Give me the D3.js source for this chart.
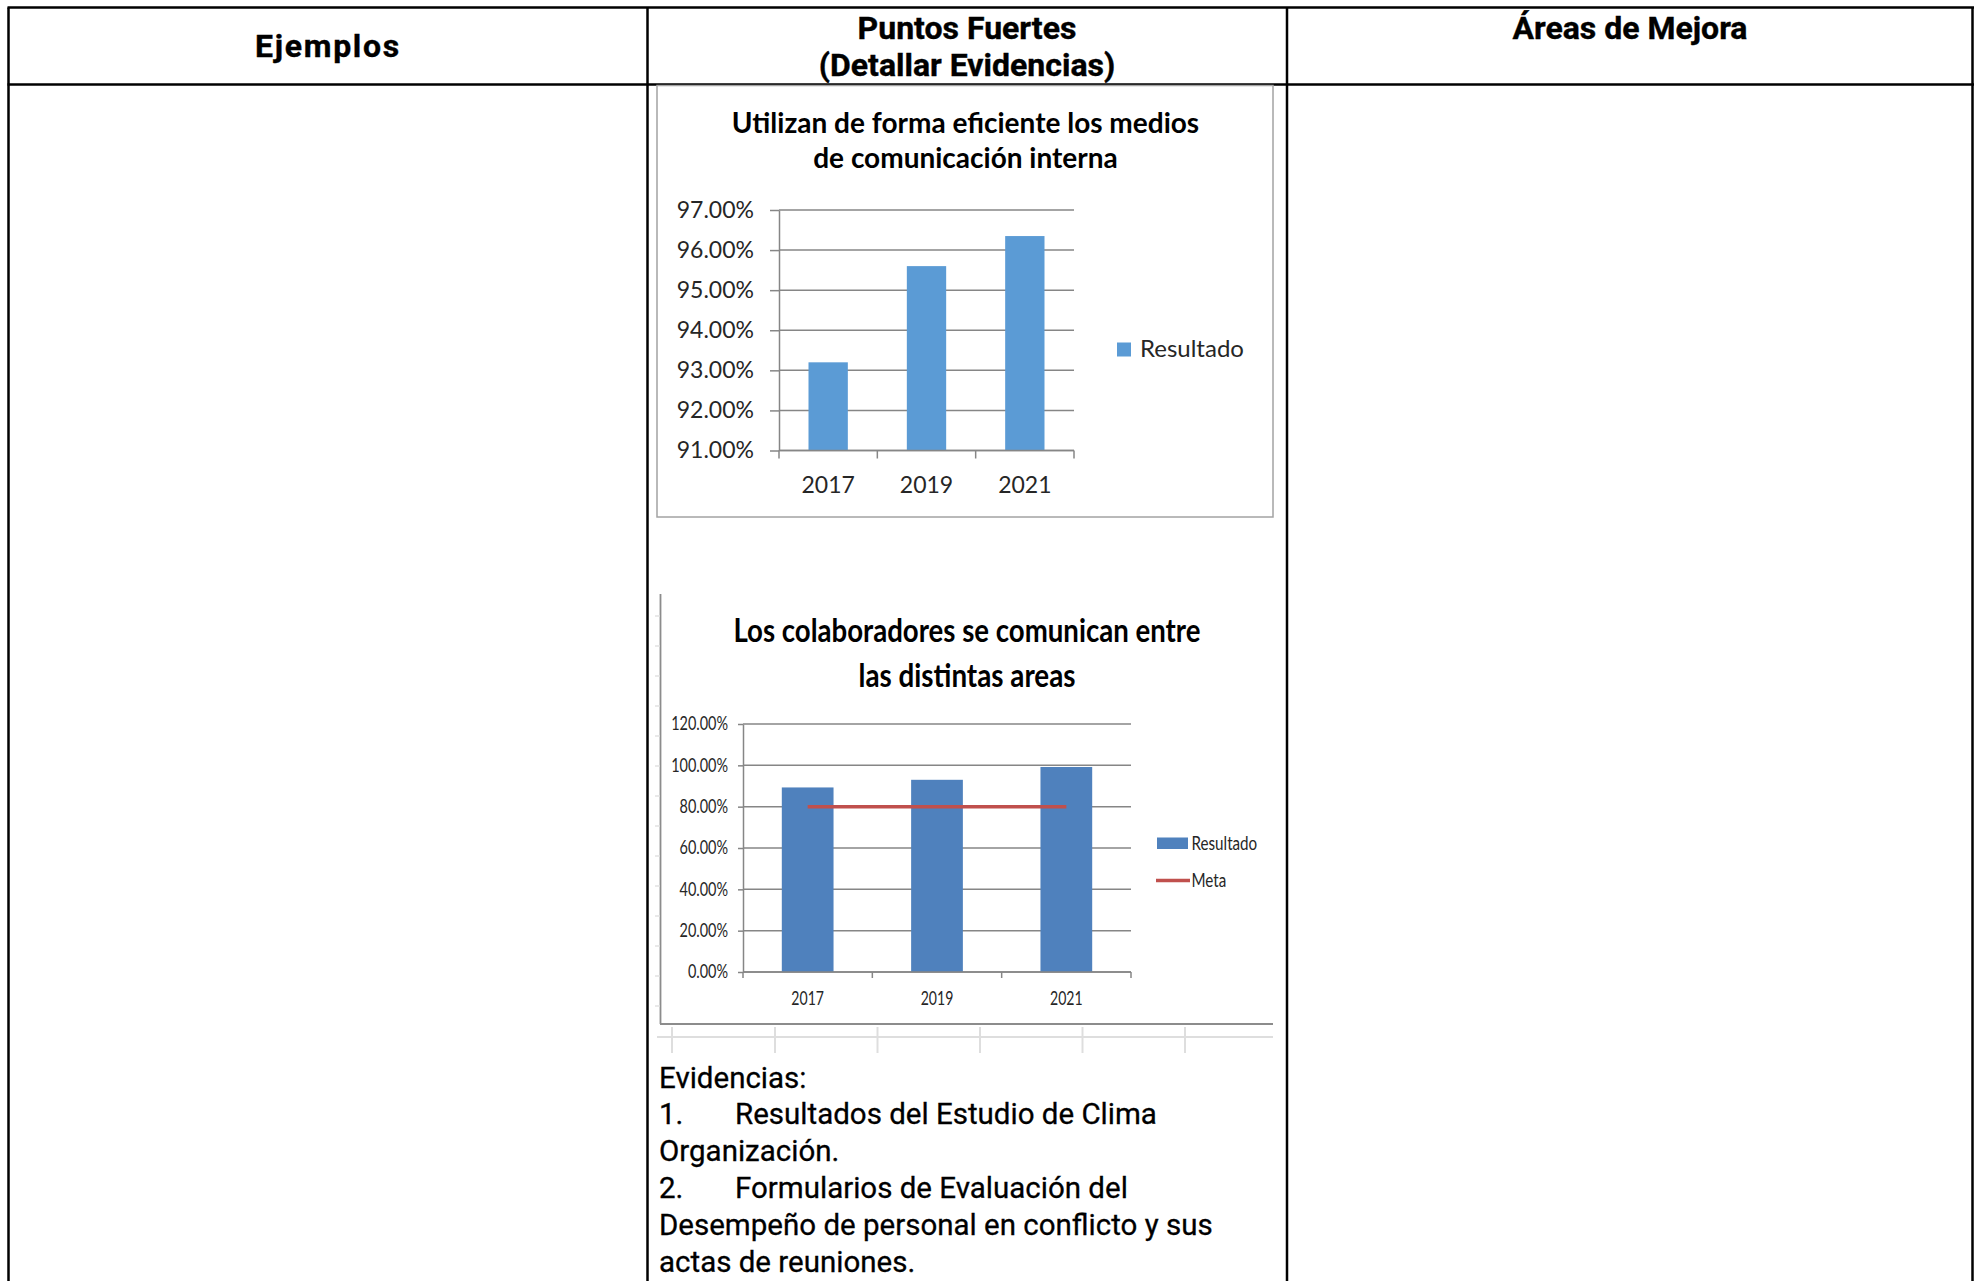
<!DOCTYPE html>
<html><head><meta charset="utf-8">
<script src="https://cdn.jsdelivr.net/npm/d3@7"></script>
<style>
html,body{margin:0;padding:0;background:#fff;}
svg{display:block;}
</style></head>
<body>
<svg id="c" width="1977" height="1281"></svg>
<script>
// ---------- DATA ----------
const headers = ["Ejemplos", "Puntos Fuertes", "(Detallar Evidencias)", "Áreas de Mejora"];

const chart1Title = ["Utilizan de forma eficiente los medios", "de comunicación interna"];
const years1 = ["2017", "2019", "2021"];
const resultado1 = [0.932, 0.956, 0.9635];
const yTicks1 = [0.91, 0.92, 0.93, 0.94, 0.95, 0.96, 0.97];
const legend1 = ["Resultado"];

const chart2Title = ["Los colaboradores se comunican entre", "las distintas areas"];
const years2 = ["2017", "2019", "2021"];
const resultado2 = [0.893, 0.930, 0.992];
const meta2 = [0.80, 0.80, 0.80];
const yTicks2 = [0, 0.2, 0.4, 0.6, 0.8, 1.0, 1.2];
const legend2 = ["Resultado", "Meta"];

const evidNumbers = ["", "1.", "", "2.", "", ""];
const evidLines = ["Evidencias:", "Resultados del Estudio de Clima", "Organización.",
  "Formularios de Evaluación del", "Desempeño de personal en conflicto y sus", "actas de reuniones."];

// ---------- DRAW ----------
const svg = d3.select("#c");
svg.append("rect").attr("width", 1977).attr("height", 1281).attr("fill", "#fff");

const pct = d3.format(".2%");
const gridC = "#868686";
const DIN = "Roboto, 'DejaVu Sans', sans-serif";
const CAL = "Lato, 'Open Sans', sans-serif";

function squish(sel, f) {
  sel.each(function () {
    const L = this.getComputedTextLength();
    this.setAttribute("textLength", L * f);
    this.setAttribute("lengthAdjust", "spacingAndGlyphs");
  });
}

// ---- table ----
const tbl = svg.append("g").attr("stroke", "#000").attr("stroke-width", 2.5);
tbl.append("line").attr("x1", 7.5).attr("x2", 1974).attr("y1", 7.5).attr("y2", 7.5);
tbl.append("line").attr("x1", 7.5).attr("x2", 1974).attr("y1", 84.5).attr("y2", 84.5);
[8.5, 647.5, 1287, 1972.5].forEach(x =>
  tbl.append("line").attr("x1", x).attr("x2", x).attr("y1", 7.5).attr("y2", 1281));

const hdr = svg.append("g").attr("font-family", DIN).attr("font-weight", "bold")
  .attr("font-size", 32).attr("fill", "#000").attr("text-anchor", "middle")
  .attr("stroke", "#000").attr("stroke-width", 0.4);
hdr.append("text").attr("x", 328).attr("y", 57).attr("letter-spacing", 1.7).text(headers[0]);
hdr.append("text").attr("x", 967).attr("y", 39).text(headers[1]);
hdr.append("text").attr("x", 967).attr("y", 76).text(headers[2]);
hdr.append("text").attr("x", 1630).attr("y", 39).text(headers[3]);

// ---- chart 1 ----
const c1 = svg.append("g");
c1.append("rect").attr("x", 657).attr("y", 85.5).attr("width", 616).attr("height", 431.5)
  .attr("fill", "#fff").attr("stroke", "#a3a3a3").attr("stroke-width", 1.5);

c1.append("g").attr("font-family", CAL).attr("font-weight", "bold").attr("font-size", 28)
  .attr("fill", "#000").attr("text-anchor", "middle")
  .selectAll("text").data(chart1Title).join("text")
  .attr("x", 965.5).attr("y", (d, i) => 132.5 + i * 35.5).text(d => d);

const x1 = d3.scaleBand().domain(years1).range([779, 1074]).paddingInner(0.6).paddingOuter(0.3);
const y1 = d3.scaleLinear().domain([0.91, 0.97]).range([450.5, 210]);

c1.append("g").selectAll("line").data(yTicks1).join("line")
  .attr("x1", 779).attr("x2", 1074).attr("y1", d => y1(d)).attr("y2", d => y1(d))
  .attr("stroke", gridC).attr("stroke-width", 1.5);

c1.append("g").selectAll("rect").data(resultado1).join("rect")
  .attr("x", (d, i) => x1(years1[i])).attr("width", x1.bandwidth())
  .attr("y", d => y1(d)).attr("height", d => y1(0.91) - y1(d))
  .attr("fill", "#5B9BD5");

const ax1 = c1.append("g").attr("transform", "translate(779,0)")
  .call(d3.axisLeft(y1).tickValues(yTicks1).tickFormat(pct).tickSize(9).tickSizeOuter(0).tickPadding(16));
ax1.selectAll("path,line").attr("stroke", gridC).attr("stroke-width", 1.5);
ax1.selectAll("text").attr("font-family", CAL).attr("font-size", 23).attr("fill", "#262626");

// x axis chart 1
const bx1 = c1.append("g");
bx1.append("line").attr("x1", 779).attr("x2", 1074).attr("y1", y1(0.91)).attr("y2", y1(0.91))
  .attr("stroke", gridC).attr("stroke-width", 1.5);
bx1.selectAll("line.tk").data(d3.range(years1.length + 1)).join("line").attr("class", "tk")
  .attr("x1", i => 779 + i * x1.step()).attr("x2", i => 779 + i * x1.step())
  .attr("y1", y1(0.91)).attr("y2", y1(0.91) + 8).attr("stroke", gridC).attr("stroke-width", 1.5);
bx1.selectAll("text").data(years1).join("text")
  .attr("x", d => x1(d) + x1.bandwidth() / 2).attr("y", 492.5)
  .attr("text-anchor", "middle").attr("font-family", CAL).attr("font-size", 23).attr("fill", "#262626")
  .text(d => d);

// legend 1
const lg1 = c1.append("g");
lg1.append("rect").attr("x", 1117).attr("y", 342.5).attr("width", 14).attr("height", 14).attr("fill", "#5B9BD5");
lg1.append("text").attr("x", 1140).attr("y", 356.5).attr("font-family", CAL).attr("font-size", 24)
  .attr("fill", "#262626").text(legend1[0]);

// ---- chart 2 ----
const c2 = svg.append("g");
c2.append("line").attr("x1", 660.5).attr("x2", 660.5).attr("y1", 594).attr("y2", 1024)
  .attr("stroke", "#8c8c8c").attr("stroke-width", 1.8);
c2.append("line").attr("x1", 660).attr("x2", 1273).attr("y1", 1024).attr("y2", 1024)
  .attr("stroke", "#8c8c8c").attr("stroke-width", 1.8);
// faint spreadsheet marks
c2.append("g").selectAll("line").data(d3.range(616, 1010, 30)).join("line")
  .attr("x1", 655).attr("x2", 660).attr("y1", d => d).attr("y2", d => d)
  .attr("stroke", "#e2e2e2").attr("stroke-width", 1.5);
const sheet = svg.append("g").attr("stroke", "#dedede").attr("stroke-width", 2);
sheet.append("line").attr("x1", 657).attr("x2", 1273).attr("y1", 1037).attr("y2", 1037);
[672, 775, 877.5, 980, 1082.5, 1185].forEach(x =>
  sheet.append("line").attr("x1", x).attr("x2", x).attr("y1", 1027).attr("y2", 1053));

const t2 = c2.append("g").attr("font-family", CAL).attr("font-weight", "bold").attr("font-size", 33)
  .attr("fill", "#000").attr("text-anchor", "middle")
  .selectAll("text").data(chart2Title).join("text")
  .attr("x", 967).attr("y", (d, i) => 642 + i * 44.5).text(d => d);
t2.attr("textLength", (d, i) => [467, 217][i]).attr("lengthAdjust", "spacingAndGlyphs");

const x2 = d3.scaleBand().domain(years2).range([743, 1131]).paddingInner(0.6).paddingOuter(0.3);
const y2 = d3.scaleLinear().domain([0, 1.2]).range([972, 724]);

c2.append("g").selectAll("line").data(yTicks2).join("line")
  .attr("x1", 743).attr("x2", 1131).attr("y1", d => y2(d)).attr("y2", d => y2(d))
  .attr("stroke", gridC).attr("stroke-width", 1.5);

c2.append("g").selectAll("rect").data(resultado2).join("rect")
  .attr("x", (d, i) => x2(years2[i])).attr("width", x2.bandwidth())
  .attr("y", d => y2(d)).attr("height", d => y2(0) - y2(d))
  .attr("fill", "#4F81BD");

const metaLine = d3.line().x((d, i) => x2(years2[i]) + x2.bandwidth() / 2).y(d => y2(d));
c2.append("path").attr("d", metaLine(meta2)).attr("fill", "none")
  .attr("stroke", "#C0504D").attr("stroke-width", 3.5);

const ax2 = c2.append("g").attr("transform", "translate(743,0)")
  .call(d3.axisLeft(y2).tickValues(yTicks2).tickFormat(pct).tickSize(5).tickSizeOuter(0).tickPadding(10));
ax2.selectAll("path,line").attr("stroke", gridC).attr("stroke-width", 1.5);
ax2.selectAll("text").attr("font-family", CAL).attr("font-size", 18.5).attr("fill", "#262626");
squish(ax2.selectAll("text"), 0.78);

const bx2 = c2.append("g");
bx2.append("line").attr("x1", 743).attr("x2", 1131).attr("y1", y2(0)).attr("y2", y2(0))
  .attr("stroke", gridC).attr("stroke-width", 1.5);
bx2.selectAll("line.tk").data(d3.range(years2.length + 1)).join("line").attr("class", "tk")
  .attr("x1", i => 743 + i * x2.step()).attr("x2", i => 743 + i * x2.step())
  .attr("y1", y2(0)).attr("y2", y2(0) + 6).attr("stroke", gridC).attr("stroke-width", 1.5);
const xl2 = bx2.selectAll("text").data(years2).join("text")
  .attr("x", d => x2(d) + x2.bandwidth() / 2).attr("y", 1005)
  .attr("text-anchor", "middle").attr("font-family", CAL).attr("font-size", 18.5).attr("fill", "#262626")
  .text(d => d);
squish(xl2, 0.76);

const lg2 = c2.append("g");
lg2.append("rect").attr("x", 1157).attr("y", 837.5).attr("width", 31).attr("height", 11.5).attr("fill", "#4F81BD");
lg2.append("line").attr("x1", 1156).attr("x2", 1190).attr("y1", 880.5).attr("y2", 880.5)
  .attr("stroke", "#C0504D").attr("stroke-width", 3.5);
const lt2 = lg2.selectAll("text").data(legend2).join("text")
  .attr("x", 1191.5).attr("y", (d, i) => 849.5 + i * 37)
  .attr("font-family", CAL).attr("font-size", 18.5).attr("fill", "#262626").text(d => d);
squish(lt2, 0.82);

// ---- evidencias ----
const ev = svg.append("g").attr("font-family", DIN).attr("font-size", 29.5).attr("fill", "#000")
  .attr("stroke", "#000").attr("stroke-width", 0.3);
ev.selectAll("text.n").data(evidNumbers).join("text").attr("class", "n")
  .attr("x", 659).attr("y", (d, i) => 1087.5 + i * 36.8).text(d => d);
ev.selectAll("text.t").data(evidLines).join("text").attr("class", "t")
  .attr("x", (d, i) => evidNumbers[i] ? 735 : 659).attr("y", (d, i) => 1087.5 + i * 36.8).text(d => d);
</script>
</body></html>
